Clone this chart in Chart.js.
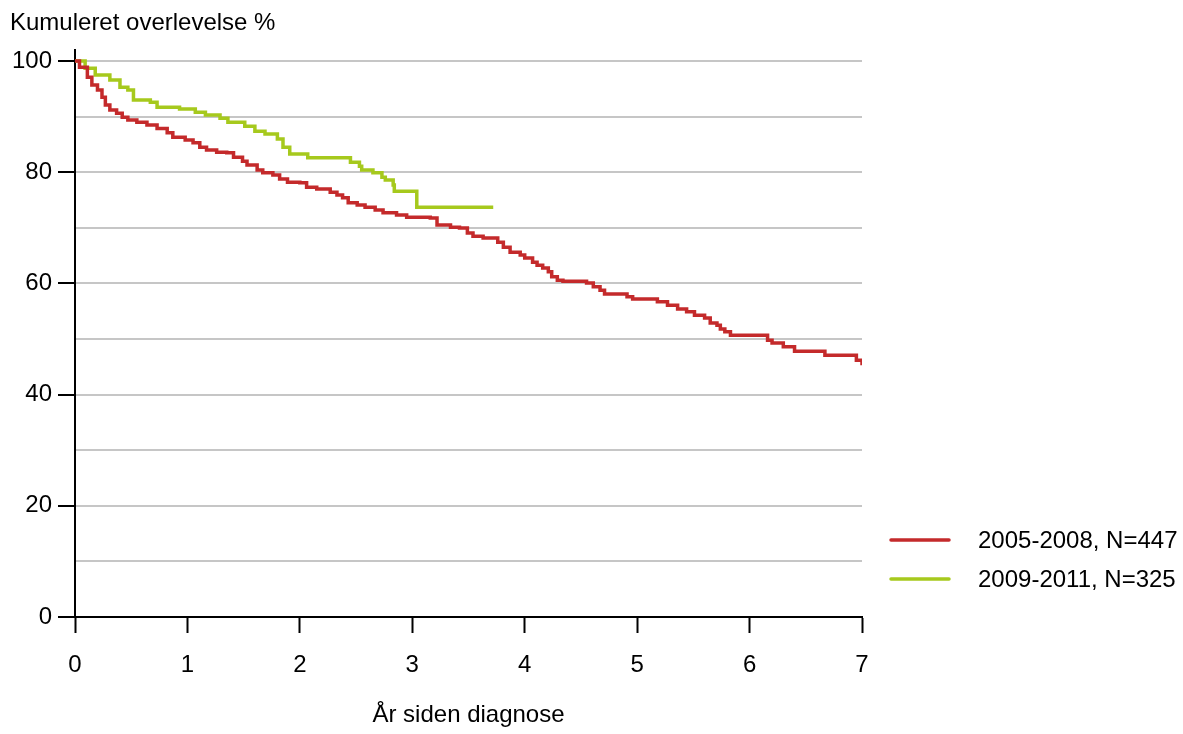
<!DOCTYPE html>
<html>
<head>
<meta charset="utf-8">
<script src="https://cdn.jsdelivr.net/npm/chart.js@4/dist/chart.umd.min.js"></script>
<style>
  html, body { margin: 0; padding: 0; background: #fff; }
  #wrap { width: 1183px; height: 734px; }
</style>
</head>
<body>
<div id="wrap"><canvas id="survChart" width="1183" height="734"></canvas></div>
<script>
// Kaplan-Meier survival, two diagnosis periods (years since diagnosis, % surviving)
const cohortLabels = ['2005-2008, N=447', '2009-2011, N=325'];
const cohortColors = ['#c42a2b', '#a6c91d'];

const earlyYears = [0, 0.04, 0.11, 0.15, 0.2, 0.24, 0.27, 0.31, 0.37, 0.42, 0.47, 0.55, 0.64, 0.73, 0.82, 0.87,
  0.98, 1.05, 1.11, 1.17, 1.26, 1.35, 1.41, 1.49, 1.53, 1.62, 1.67, 1.76, 1.82, 1.89, 2.0, 2.06, 2.15,
  2.27, 2.33, 2.38, 2.43, 2.51, 2.58, 2.67, 2.74, 2.86, 2.95, 3.16, 3.22, 3.34, 3.42, 3.49, 3.54, 3.63,
  3.76, 3.81, 3.87, 3.96, 4.0, 4.07, 4.11, 4.16, 4.21, 4.24, 4.29, 4.34, 4.55, 4.61, 4.67, 4.71, 4.91,
  4.96, 5.18, 5.27, 5.36, 5.44, 5.51, 5.6, 5.65, 5.71, 5.74, 5.78, 5.83, 6.16, 6.2, 6.3, 6.4, 6.67,
  6.95, 7.0];
const earlySurv = [100, 98.9, 97.1, 95.7, 94.8, 93.5, 92.1, 91.2, 90.6, 89.9, 89.4, 89.0, 88.5, 87.9, 87.1, 86.3,
  85.8, 85.3, 84.5, 84.0, 83.6, 83.5, 82.7, 82.0, 81.3, 80.4, 79.9, 79.5, 78.8, 78.2, 78.1, 77.3, 77.0,
  76.4, 75.9, 75.4, 74.5, 74.1, 73.7, 73.2, 72.7, 72.3, 71.9, 71.8, 70.5, 70.1, 70.0, 69.1, 68.5, 68.2,
  67.4, 66.5, 65.6, 65.1, 64.6, 63.8, 63.3, 62.8, 62.1, 61.2, 60.6, 60.4, 60.1, 59.4, 58.8, 58.1, 57.6,
  57.2, 56.7, 56.1, 55.4, 54.9, 54.3, 53.8, 52.9, 52.5, 51.8, 51.3, 50.7, 49.8, 49.3, 48.6, 47.8, 47.1,
  46.2, 45.3];

const lateYears = [0, 0.09, 0.18, 0.31, 0.4, 0.47, 0.52, 0.67, 0.73, 0.93, 1.07, 1.16, 1.29, 1.36, 1.51, 1.6,
  1.69, 1.8, 1.85, 1.91, 2.07, 2.45, 2.53, 2.55, 2.65, 2.73, 2.76, 2.83, 2.84, 3.04, 3.72];
const lateSurv = [100, 98.7, 97.5, 96.6, 95.3, 94.8, 93.0, 92.6, 91.7, 91.4, 90.8, 90.3, 89.7, 89.0, 88.3, 87.4,
  86.9, 86.0, 84.5, 83.3, 82.6, 81.8, 81.1, 80.4, 79.9, 79.1, 78.6, 77.7, 76.6, 73.7, 73.7];

const xTicks = [0, 1, 2, 3, 4, 5, 6, 7];
const yGrid = [0, 10, 20, 30, 40, 50, 60, 70, 80, 90, 100];

const yTitle = 'Kumuleret overlevelse %';
const xTitle = 'År siden diagnose';

const FONT = "'Liberation Sans', Arial, sans-serif";

function toPoints(xs, ys) {
  return xs.map((x, i) => ({ x: x, y: ys[i] }));
}

// y title top-left and the legend to the right of the plot
const extras = {
  id: 'extras',
  afterDraw(chart) {
    const ctx = chart.ctx;
    ctx.save();
    ctx.fillStyle = '#000';
    ctx.font = '24px ' + FONT;
    ctx.textBaseline = 'middle';
    ctx.textAlign = 'left';
    ctx.fillText(yTitle, 10, 23);

    const rows = [540, 579];
    chart.data.datasets.forEach((ds, i) => {
      ctx.strokeStyle = ds.borderColor;
      ctx.lineWidth = 3.5;
      ctx.lineCap = 'round';
      ctx.beginPath();
      ctx.moveTo(891, rows[i]);
      ctx.lineTo(949, rows[i]);
      ctx.stroke();
      ctx.fillStyle = '#000';
      ctx.fillText(ds.label, 978, rows[i] + 1);
    });
    ctx.restore();
  }
};

new Chart(document.getElementById('survChart'), {
  type: 'line',
  data: {
    datasets: [
      {
        label: cohortLabels[0],
        data: toPoints(earlyYears, earlySurv),
        borderColor: cohortColors[0],
        backgroundColor: cohortColors[0],
        borderWidth: 3.5,
        stepped: true,
        pointRadius: 0,
        fill: false
      },
      {
        label: cohortLabels[1],
        data: toPoints(lateYears, lateSurv),
        borderColor: cohortColors[1],
        backgroundColor: cohortColors[1],
        borderWidth: 3.5,
        stepped: true,
        pointRadius: 0,
        fill: false
      }
    ]
  },
  options: {
    responsive: false,
    animation: false,
    layout: { padding: { left: 0, top: 50, right: 321, bottom: 0 } },
    plugins: {
      legend: { display: false },
      tooltip: { enabled: false }
    },
    scales: {
      x: {
        type: 'linear',
        min: 0,
        max: 7,
        afterBuildTicks: (scale) => { scale.ticks = xTicks.map(v => ({ value: v })); },
        afterFit: (scale) => { scale.height = 117; },
        ticks: {
          color: '#000',
          font: { family: FONT, size: 24 },
          padding: 18
        },
        grid: {
          drawOnChartArea: false,
          drawTicks: true,
          tickLength: 16,
          tickColor: '#000',
          tickWidth: 2
        },
        border: { color: '#000', width: 2 },
        title: {
          display: true,
          text: xTitle,
          color: '#000',
          font: { family: FONT, size: 24 },
          padding: { top: 0, bottom: 4 }
        }
      },
      y: {
        min: 0,
        max: 102,
        afterBuildTicks: (scale) => { scale.ticks = yGrid.map(v => ({ value: v })); },
        afterFit: (scale) => { scale.width = 75; },
        ticks: {
          color: '#000',
          font: { family: FONT, size: 24 },
          padding: 6,
          callback: (v) => (v % 20 === 0 ? String(v) : '')
        },
        grid: {
          color: (c) => (c.tick && c.tick.value === 0 ? 'rgba(0,0,0,0)' : '#c6c6c6'),
          lineWidth: 2,
          tickLength: 17,
          tickWidth: 2,
          tickColor: (c) => (c.tick && c.tick.value % 20 === 0 ? '#000' : 'rgba(0,0,0,0)')
        },
        border: { color: '#000', width: 2 }
      }
    }
  },
  plugins: [extras]
});
</script>
</body>
</html>
